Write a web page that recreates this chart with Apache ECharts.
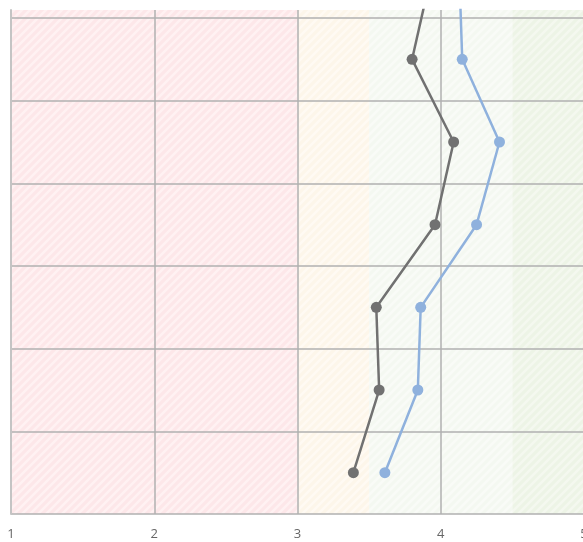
<!DOCTYPE html>
<html>
<head>
<meta charset="utf-8">
<script src="https://cdn.jsdelivr.net/npm/echarts@6/dist/echarts.min.js"></script>
<style>html,body{margin:0;padding:0;background:#fff}#c{width:583px;height:542px}</style>
</head>
<body>
<div id="c"></div>
<script>
// Row positions (category slots, bottom = 0.5)
const rows = [6.5, 5.5, 4.5, 3.5, 2.5, 1.5, 0.5];
const grayValues = [3.93, 3.80, 4.09, 3.96, 3.55, 3.57, 3.39];
const blueValues = [4.13, 4.15, 4.41, 4.25, 3.86, 3.84, 3.61];
const xTicks = [1, 2, 3, 4, 5];
const bands = [[1, 3], [3, 3.5], [3.5, 4.5], [4.5, 5]];

function stripes(bg, fg) {
  const c = document.createElement('canvas');
  c.width = 8; c.height = 8;
  const g = c.getContext('2d');
  g.fillStyle = bg; g.fillRect(0, 0, 8, 8);
  g.strokeStyle = fg; g.lineWidth = 2.5;
  g.beginPath();
  g.moveTo(-2, 10); g.lineTo(10, -2);
  g.moveTo(-2, 2); g.lineTo(2, -2);
  g.moveTo(6, 10); g.lineTo(10, 6);
  g.stroke();
  return { image: c, repeat: 'repeat' };
}
const bandFills = [
  stripes('#fde7e9', '#fff1f2'),
  stripes('#fdf6ea', '#fffaf3'),
  stripes('#f4f8f1', '#f9fbf7'),
  stripes('#edf4e6', '#f4f8ef')
];

const chart = echarts.init(document.getElementById('c'), null, { renderer: 'canvas' });
chart.setOption({
  animation: false,
  backgroundColor: '#fff',
  grid: { left: 11, top: 10, right: -1, height: 504, containLabel: false, outerBoundsMode: 'none' },
  xAxis: {
    type: 'value', min: 1, max: 5, interval: 1, z: 2,
    axisLine: { show: false }, axisTick: { show: false },
    axisLabel: { color: '#666', fontSize: 13, fontFamily: 'Open Sans', margin: 14,
      formatter: v => xTicks.includes(v) ? String(v) : '' },
    splitLine: { show: true, lineStyle: { color: '#b0b0b0', width: 1.5 } }
  },
  yAxis: {
    type: 'value', min: 0, max: 6.097, interval: 1, z: 2,
    axisLine: { show: true, lineStyle: { color: '#c4c4c4', width: 2 } },
    axisTick: { show: false }, axisLabel: { show: false },
    splitLine: { show: true, showMaxLine: false, lineStyle: { color: '#b0b0b0', width: 1.5 } }
  },
  series: [
    {
      type: 'line', clip: true, z: 5,
      data: rows.map((r, i) => [grayValues[i], r]),
      lineStyle: { color: '#717171', width: 2.5 },
      itemStyle: { color: '#717171' },
      symbol: 'circle', symbolSize: 11,
      markArea: {
        silent: true, z: 1,
        data: bands.map((b, i) => [
          { xAxis: b[0], itemStyle: { color: bandFills[i] } },
          { xAxis: b[1] }
        ])
      }
    },
    {
      type: 'line', clip: true, z: 5,
      data: rows.map((r, i) => [blueValues[i], r]),
      lineStyle: { color: '#8fb1dd', width: 2.5 },
      itemStyle: { color: '#8fb1dd' },
      symbol: 'circle', symbolSize: 11
    }
  ]
});
</script>
</body>
</html>
